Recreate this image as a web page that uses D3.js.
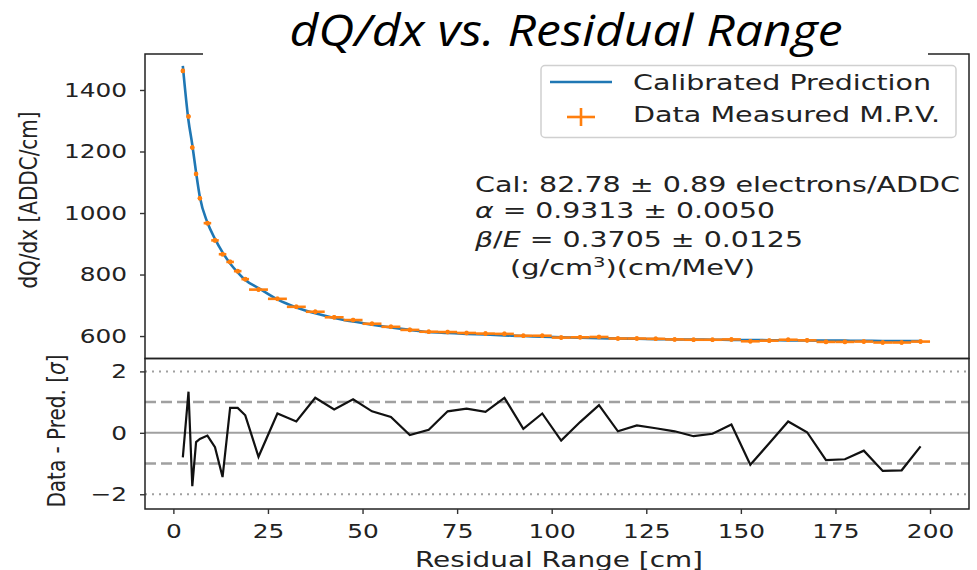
<!DOCTYPE html>
<html>
<head>
<meta charset="utf-8">
<script src="https://cdn.jsdelivr.net/npm/d3@7"></script>
<style>
  body { margin: 0; background: #fff; }
  svg text { font-family: "DejaVu Sans", sans-serif; fill: #222; }
</style>
</head>
<body>
<svg id="chart" width="977" height="570"></svg>
<script>
// residual range bin centres [cm]
var rangeBins = [2.5, 4, 5, 6, 7, 9, 11, 13, 15, 17, 19, 22.5, 27.5, 32.5, 37.5, 42.5, 47.5, 52.5, 57.5, 62.5,
    67.5, 72.5, 77.5, 82.5, 87.5, 92.5, 97.5, 102.5, 107.5, 112.5, 117.5, 122.5, 127.5, 132.5, 137.5, 142.5,
    147.5, 152.5, 157.5, 162.5, 167.5, 172.5, 177.5, 182.5, 187.5, 192.5, 197.5];
// half width of each bin
var binHalf = [0.5, 0.5, 0.5, 0.5, 0.5, 1, 1, 1, 1, 1, 1, 2.5, 2.5, 2.5, 2.5, 2.5, 2.5, 2.5, 2.5, 2.5,
    2.5, 2.5, 2.5, 2.5, 2.5, 2.5, 2.5, 2.5, 2.5, 2.5, 2.5, 2.5, 2.5, 2.5, 2.5, 2.5,
    2.5, 2.5, 2.5, 2.5, 2.5, 2.5, 2.5, 2.5, 2.5, 2.5, 2.5];
// measured MPV dQ/dx [ADDC/cm]
var dataMPV = [1462, 1314, 1213, 1127, 1048, 967, 911, 866, 841, 811, 785, 751, 721, 695, 679, 661, 652, 640, 630, 620,
    614, 613, 610, 608, 607, 601, 601, 595, 596, 597, 592, 592, 591, 589, 588, 588,
    589, 583, 585, 588, 586, 581, 581, 582, 579, 579, 582];
var dataErr = 7;
// calibrated prediction
var predMPV = [1478, 1300, 1222, 1132, 1052, 969, 916, 872, 836, 807, 782, 756, 719, 693, 674, 659, 647, 637, 628, 620,
    613, 610, 607, 605, 602, 600, 598, 596, 594.5, 593, 592, 591, 590, 589, 588.5, 588,
    587.5, 587, 586.5, 586, 585.5, 585, 585, 584.5, 584, 584, 583.5];
// (data - pred) / sigma
var residuals = [-0.80, 1.34, -1.74, -0.30, -0.20, -0.09, -0.47, -1.44, 0.81, 0.81, 0.57, -0.78, 0.63, 0.37, 1.14, 0.76, 1.09, 0.70, 0.52, -0.07,
    0.10, 0.70, 0.79, 0.68, 1.14, 0.13, 0.63, -0.25, 0.35, 0.90, 0.05, 0.24, 0.15, 0.05, -0.11, -0.03,
    0.27, -1.04, -0.34, 0.37, 0.02, -0.89, -0.86, -0.58, -1.24, -1.22, -0.44];

var dqdxTicks = [600, 800, 1000, 1200, 1400];
var residTicks = [-2, 0, 2];
var rangeTicks = [0, 25, 50, 75, 100, 125, 150, 175, 200];
var sigmaLines = [-2, -1, 0, 1, 2];

var blue = "#1f77b4", orange = "#ff7f0e";
var frameL = 145, frameR = 969, frameT = 54, frameMid = 358.5, frameB = 509;

var svg = d3.select("#chart");

var x = d3.scaleLinear().domain([-7.5, 210.3]).range([frameL, frameR]);
var yTop = d3.scaleLinear().domain([527, 1517]).range([frameMid, frameT]);
var yRes = d3.scaleLinear().domain([-2.48, 2.42]).range([frameB, frameMid]);

// stretch text horizontally like the reference picture
function widen(sel, k) {
    sel.each(function () {
        var w = this.getComputedTextLength();
        d3.select(this).attr("textLength", w * k).attr("lengthAdjust", "spacingAndGlyphs");
    });
}
function fit(sel, w) {
    sel.attr("textLength", w).attr("lengthAdjust", "spacingAndGlyphs");
}

//==================== residual panel reference lines ====================
svg.selectAll(".sig").data(sigmaLines).enter().append("line")
    .attr("x1", frameL).attr("x2", frameR)
    .attr("y1", function (d) { return yRes(d); })
    .attr("y2", function (d) { return yRes(d); })
    .attr("stroke", "#a0a0a0")
    .attr("stroke-width", function (d) { return d == 0 ? 2 : (Math.abs(d) == 1 ? 2.5 : 2); })
    .attr("stroke-dasharray", function (d) { return d == 0 ? null : (Math.abs(d) == 1 ? "11,5" : "2,5"); });

var resLine = d3.line()
    .x(function (d, i) { return x(rangeBins[i]); })
    .y(function (d) { return yRes(d); });
svg.append("path").attr("d", resLine(residuals))
    .attr("fill", "none").attr("stroke", "#111").attr("stroke-width", 2.2);

//==================== top panel ====================
var predLine = d3.line()
    .x(function (d, i) { return x(rangeBins[i]); })
    .y(function (d) { return yTop(d); })
    .curve(d3.curveMonotoneX);
svg.append("path").attr("d", predLine(predMPV))
    .attr("fill", "none").attr("stroke", blue).attr("stroke-width", 2.6);

var pts = svg.append("g").attr("stroke", orange).attr("stroke-width", 2.6);
dataMPV.forEach(function (v, i) {
    pts.append("line")
        .attr("x1", x(rangeBins[i] - binHalf[i])).attr("x2", x(rangeBins[i] + binHalf[i]))
        .attr("y1", yTop(v)).attr("y2", yTop(v));
    pts.append("line")
        .attr("x1", x(rangeBins[i])).attr("x2", x(rangeBins[i]))
        .attr("y1", yTop(v - dataErr)).attr("y2", yTop(v + dataErr));
    pts.append("circle").attr("cx", x(rangeBins[i])).attr("cy", yTop(v))
        .attr("r", 2.3).attr("fill", orange).attr("stroke", "none");
});

//==================== frames ====================
svg.append("rect").attr("x", frameL).attr("y", frameT).attr("width", frameR - frameL).attr("height", frameMid - frameT)
    .attr("fill", "none").attr("stroke", "#222").attr("stroke-width", 1.5);
svg.append("rect").attr("x", frameL).attr("y", frameMid).attr("width", frameR - frameL).attr("height", frameB - frameMid)
    .attr("fill", "none").attr("stroke", "#222").attr("stroke-width", 1.5);

//==================== axes ====================
var gy = svg.append("g").attr("transform", "translate(" + frameL + ",0)")
    .call(d3.axisLeft(yTop).tickValues(dqdxTicks).tickSize(5).tickPadding(13).tickFormat(d3.format("d")));
var gr = svg.append("g").attr("transform", "translate(" + frameL + ",0)")
    .call(d3.axisLeft(yRes).tickValues(residTicks).tickSize(5).tickPadding(13).tickFormat(d3.format("d")));
var gx = svg.append("g").attr("transform", "translate(0," + frameB + ")")
    .call(d3.axisBottom(x).tickValues(rangeTicks).tickSize(5).tickPadding(10));
[gy, gr, gx].forEach(function (g) {
    g.select(".domain").remove();
    g.selectAll(".tick line").attr("stroke", "#333").attr("stroke-width", 1.4);
    g.selectAll("text").attr("font-size", 20).attr("fill", "#222")
        .style("font-family", "'DejaVu Sans', sans-serif");
    widen(g.selectAll("text"), 1.24);
});

// axis titles
svg.append("text").attr("transform", "translate(37,200) scale(1.24,1) rotate(-90)")
    .attr("text-anchor", "middle").attr("font-size", 20).text("dQ/dx [ADDC/cm]");
var yl2 = svg.append("text").attr("transform", "translate(65,431) scale(1.24,1) rotate(-90)")
    .attr("text-anchor", "middle").attr("font-size", 20);
yl2.append("tspan").text("Data - Pred. [");
yl2.append("tspan").attr("font-style", "italic").text("σ");
yl2.append("tspan").text("]");
var xl = svg.append("text").attr("x", 559).attr("y", 566.5).attr("text-anchor", "middle")
    .attr("font-size", 21).text("Residual Range [cm]");
fit(xl, 288);

//==================== legend ====================
var lg = svg.append("g");
lg.append("rect").attr("x", 541).attr("y", 65.5).attr("width", 415).attr("height", 72).attr("rx", 4)
    .attr("fill", "#fff").attr("fill-opacity", 0.85).attr("stroke", "#d0d0d0").attr("stroke-width", 1.5);
lg.append("line").attr("x1", 550).attr("x2", 612).attr("y1", 82).attr("y2", 82)
    .attr("stroke", blue).attr("stroke-width", 2.6);
lg.append("line").attr("x1", 567).attr("x2", 595).attr("y1", 117).attr("y2", 117)
    .attr("stroke", orange).attr("stroke-width", 2.6);
lg.append("line").attr("x1", 581).attr("x2", 581).attr("y1", 108).attr("y2", 126)
    .attr("stroke", orange).attr("stroke-width", 2.6);
fit(lg.append("text").attr("x", 633).attr("y", 90).attr("font-size", 22).text("Calibrated Prediction"), 298);
fit(lg.append("text").attr("x", 633).attr("y", 122).attr("font-size", 22).text("Data Measured M.P.V."), 307);

//==================== fit annotation ====================
var an = svg.append("g").attr("font-size", 20.5);
fit(an.append("text").attr("x", 475).attr("y", 192).text("Cal: 82.78 ± 0.89 electrons/ADDC"), 485);
var a2 = an.append("text").attr("x", 475).attr("y", 217.5);
a2.append("tspan").attr("font-style", "italic").text("α");
a2.append("tspan").text(" = 0.9313 ± 0.0050");
fit(a2, 300);
var a3 = an.append("text").attr("x", 475).attr("y", 247);
a3.append("tspan").attr("font-style", "italic").text("β");
a3.append("tspan").text("/");
a3.append("tspan").attr("font-style", "italic").text("E");
a3.append("tspan").text(" = 0.3705 ± 0.0125");
fit(a3, 328);
var a4 = an.append("text").attr("x", 510).attr("y", 275);
a4.append("tspan").text("(g/cm");
a4.append("tspan").attr("font-size", 14).attr("dy", -8).text("3");
a4.append("tspan").attr("dy", 8).text(")(cm/MeV)");
fit(a4, 245);

//==================== slide title ====================
svg.append("rect").attr("x", 203).attr("y", 0).attr("width", 725).attr("height", 57).attr("fill", "#fff");
var ttl = svg.append("text").attr("x", 566).attr("y", 46).attr("text-anchor", "middle")
    .attr("font-size", 44).attr("font-style", "italic")
    .style("font-family", "'Open Sans', 'DejaVu Sans', sans-serif").style("fill", "#000")
    .text("dQ/dx vs. Residual Range");
fit(ttl, 553);
</script>
</body>
</html>
